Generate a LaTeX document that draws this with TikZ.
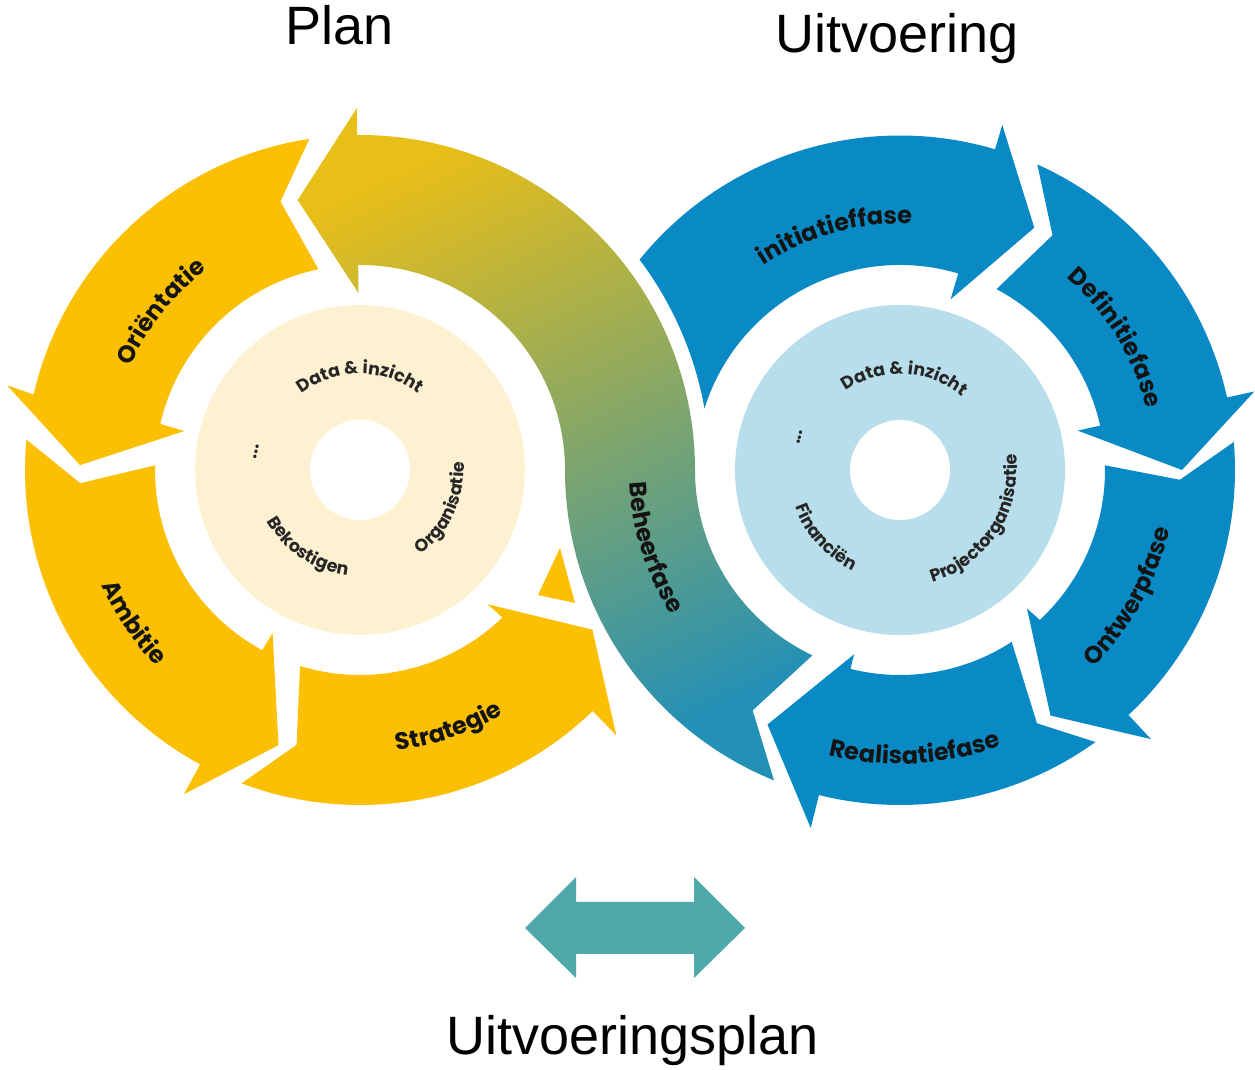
\documentclass[tikz,border=0pt]{standalone}
\usepackage{fontspec}
\setmainfont{Liberation Sans}
\newfontfamily\pop{Poppins}
\usetikzlibrary{decorations.text}
\definecolor{cYel}{HTML}{FBC004}
\definecolor{cCream}{HTML}{FEF1D2}
\definecolor{cBlue}{HTML}{0A8AC4}
\definecolor{cLBlue}{HTML}{B7DEEA}
\definecolor{cTeal}{HTML}{4FA8AA}
\definecolor{cGa}{HTML}{E8BE18}
\definecolor{cGb}{HTML}{86AE60}
\definecolor{cGc}{HTML}{2390B6}
\definecolor{cTxt}{HTML}{141414}
\definecolor{cTxtIn}{HTML}{262626}
\tikzset{
  yelarrow/.style={fill=cYel},
  bluarrow/.style={fill=cBlue},
  outerlab/.style={decorate, decoration={text along path, text align=center, text color=cTxt,
      text={|\pop\bfseries\fontsize{24}{24}\selectfont|#1}}},
  innerlab/.style={decorate, decoration={text along path, text align=center, text color=cTxtIn,
      text={|\pop\bfseries\fontsize{17.5}{18}\selectfont|#1}}},
  ttl/.style={font=\fontsize{54}{60}\selectfont, text=black, inner sep=0pt, anchor=base},
}
\begin{document}
\begin{tikzpicture}[x=1pt,y=1pt]
\useasboundingbox (0,0) rectangle (1255,1070);
\fill[white] (0,0) rectangle (1255,1070);

% inner discs
\fill[cCream] (360,600) circle[radius=165];
\fill[white] (360,600) circle[radius=50];
\fill[cLBlue] (900,600) circle[radius=165];
\fill[white] (900,600) circle[radius=50];

% Beheerfase (S-shaped gradient arrow)
\shade[top color=cGa, middle color=cGb, bottom color=cGc, shading angle=25]
  ([shift={(900,600)}]244.7:205) -- ([shift={(900,600)}]238.5:282) -- ([shift={(900,600)}]247.9:335)
  arc[start angle=247.9, end angle=180, radius=335]
  arc[start angle=0, end angle=90.5, radius=205]
  -- ([shift={(360,600)}]90.5:177) -- ([shift={(360,600)}]103:277) -- ([shift={(360,600)}]90.5:362)
  -- ([shift={(360,600)}]90.5:335)
  arc[start angle=90.5, end angle=0, radius=335]
  arc[start angle=180, end angle=244.7, radius=205] -- cycle;

% left ring
\begin{scope}[shift={(360,600)}]
\fill[yelarrow] (101.7:205) -- (106.5:280) -- (98.7:335) arc[start angle=98.7, end angle=167, radius=335]
  -- (166.5:363) -- (179:280) -- (167.5:180) -- (167:205) arc[start angle=167, end angle=101.7, radius=205] -- cycle;
\fill[yelarrow] (178.7:205) -- (182.7:280) -- (174.8:335) arc[start angle=174.8, end angle=241.5, radius=335]
  -- (241.5:369) -- (253.5:287) -- (241.8:185) -- (241.5:205) arc[start angle=241.5, end angle=178.7, radius=205] -- cycle;
\fill[yelarrow] (253:205) -- (257:282) -- (249.3:335) arc[start angle=249.3, end angle=314, radius=335]
  -- (314:369) -- (325.5:282) -- (313.5:185) -- (314:205) arc[start angle=314, end angle=253, radius=205] -- cycle;
\path[outerlab={Oriëntatie}] (172:252) arc[start angle=172, end angle=111, radius=252];
\path[outerlab={Ambitie}] (184:283) arc[start angle=184, end angle=244, radius=283];
\path[outerlab={Strategie}] (259:283) arc[start angle=259, end angle=319, radius=283];
\path[innerlab={Data {\&} inzicht}] (150:96) arc[start angle=150, end angle=30, radius=96];
\path[innerlab={...}] (190:104) arc[start angle=190, end angle=150, radius=104];
\path[innerlab={Organisatie}] (-75:104) arc[start angle=-75, end angle=25, radius=104];
\path[innerlab={Bekostigen}] (186:106) arc[start angle=186, end angle=286, radius=106];
\end{scope}
\fill[yelarrow] (538,475) -- (560,522) -- (575,467) -- cycle;

% right ring
\begin{scope}[shift={(900,600)}]
\fill[bluarrow] (162.5:205) arc[start angle=10.2, end angle=37, radius=350]
  arc[start angle=141, end angle=73.5, radius=335]
  -- (73.5:360) -- (61:277) -- (73.5:178) -- (73.5:205) arc[start angle=73.5, end angle=162.5, radius=205] -- cycle;
\fill[bluarrow] (61.9:205) -- (57:280) -- (65.8:335) arc[start angle=65.8, end angle=12.5, radius=335]
  -- (12.5:363) -- (0:282) -- (12.5:182) -- (12.5:205) arc[start angle=12.5, end angle=61.9, radius=205] -- cycle;
\fill[bluarrow] (1.3:205) -- (-2:280) -- (4.8:335) arc[start angle=4.8, end angle=-47, radius=335]
  -- (-47:368) -- (-58.5:288) -- (-47.5:188) -- (-47:205) arc[start angle=-47, end angle=1.3, radius=205] -- cycle;
\fill[bluarrow] (-57:205) -- (-61.6:288) -- (-54.3:335) arc[start angle=-54.3, end angle=-104, radius=335]
  -- (-104:369) -- (-117.5:287) -- (-104:190) -- (-104:205) arc[start angle=-104, end angle=-57, radius=205] -- cycle;
\path[outerlab={initiatieffase}] (145:246) arc[start angle=145, end angle=66, radius=246];
\path[outerlab={Definitiefase}] (67:254) arc[start angle=67, end angle=-4, radius=254];
\path[outerlab={Ontwerpfase}] (-64:276) arc[start angle=-64, end angle=6, radius=276];
\path[outerlab={Realisatiefase}] (238:294) arc[start angle=238, end angle=308, radius=294];
\path[outerlab={Beheerfase}] (162:271) arc[start angle=162, end angle=233, radius=271];
\path[innerlab={Data {\&} inzicht}] (147:96) arc[start angle=147, end angle=27, radius=96];
\path[innerlab={...}] (182:104) arc[start angle=182, end angle=142, radius=104];
\path[innerlab={Financiën}] (172:111) arc[start angle=172, end angle=272, radius=111];
\path[innerlab={Projectorganisatie}] (-103:117) arc[start angle=-103, end angle=37, radius=117];
\end{scope}

% bottom double arrow
\fill[cTeal] (525,142) -- (576,193) -- (576,168) -- (694,168) -- (694,193) -- (745,142)
  -- (694,92) -- (694,116) -- (576,116) -- (576,92) -- cycle;

% titles
\node[ttl] (plan) at (340,1025) {Plan};
\node[ttl] (uitv) at (897,1017) {Uitvoering};
\node[ttl] (uplan) at (633,15) {Uitvoeringsplan};
\end{tikzpicture}
\end{document}
